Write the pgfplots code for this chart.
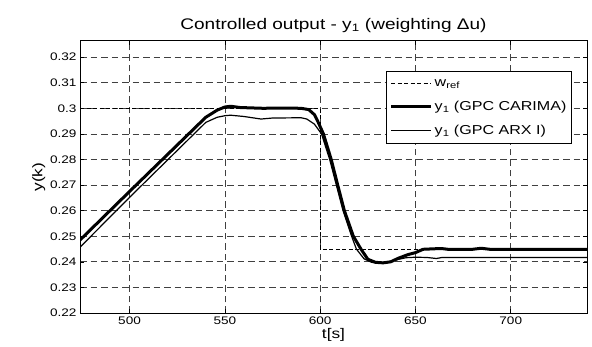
\documentclass[border=0pt]{standalone}
\usepackage{fontspec}
\setmainfont{Liberation Sans}[FakeStretch=1.24]
\usepackage{pgfplots}
\pgfplotsset{compat=1.18}
\begin{document}
\begin{tikzpicture}[x=1bp,y=1bp]
\useasboundingbox (-80bp,-34bp) rectangle (512bp,313bp);
\begin{axis}[
  at={(0,0)}, anchor=south west,
  scale only axis,
  width=507bp, height=272bp,
  xmin=474, xmax=740, ymin=0.22, ymax=0.3263,
  xtick={500,550,600,650,700},
  ytick={0.22,0.23,0.24,0.25,0.26,0.27,0.28,0.29,0.3,0.31,0.32},
  yticklabels={0.22,0.23,0.24,0.25,0.26,0.27,0.28,0.29,0.3,0.31,0.32},
  /pgf/number format/assume math mode=true,
  tick align=inside,
  major tick length=4bp,
  tick style={black, line width=0.6bp},
  axis line style={black, line width=1bp},
  grid=major,
  major grid style={dash pattern=on 6.5bp off 4bp, black!75, line width=0.7bp},
  ticklabel style={font=\fontsize{11}{12}\selectfont},
  xlabel={t[s]}, ylabel={y(k)},
  label style={font=\fontsize{14}{15}\selectfont},
  xlabel style={yshift=3bp},
  ylabel style={yshift=-2bp},
  title={Controlled output - y\textsubscript{1} (weighting Δu)},
  title style={font=\fontsize{15.4}{16}\selectfont, yshift=-1bp},
  legend style={at={(0.970,0.889)}, anchor=north east, draw=black, line width=0.8bp,
    font=\fontsize{13}{14}\selectfont, inner xsep=3bp, inner ysep=6bp,
    row sep=9bp, cells={anchor=west}},
  legend image code/.code={\draw[#1] (0bp,0bp) -- (40bp,0bp);},
]
\addplot[black, line width=0.9bp, dash pattern=on 4bp off 2.5bp] coordinates {
(474,0.3) (600,0.3) (600,0.245) (740,0.245)};
\addlegendentry{w\textsubscript{ref}}
\addplot[black, line width=3bp, line join=round] coordinates {
(474,0.2485) (500,0.2675) (540,0.2965) (546,0.2993) (550,0.3005) (553,0.3008)
(558,0.3003) (570,0.3000) (580,0.3001) (590,0.3000) (594,0.2995) (597,0.2975)
(599,0.2945) (601.7,0.2900) (605.8,0.2800) (609.2,0.2700) (612.7,0.2600)
(617.4,0.2500) (621.4,0.2450) (625,0.2410) (629,0.2398) (633,0.2396)
(637,0.2400) (641,0.2414) (646,0.2428) (650,0.2436) (654,0.2449) (660,0.2451)
(663.6,0.2452) (667,0.2449) (680,0.2449) (684.5,0.2453) (689,0.2449) (740,0.2449)};
\addlegendentry{y\textsubscript{1} (GPC CARIMA)}
\addplot[black, line width=1.2bp, line join=round] coordinates {
(474,0.2457) (500,0.2652) (540,0.2945) (546,0.2965) (550,0.2971) (553,0.2973)
(560,0.2968) (569,0.2958) (575,0.2962) (590,0.2963) (593,0.2958) (597,0.2938)
(600.7,0.2900) (605,0.2800) (608.5,0.2700) (612,0.2600) (616.5,0.2500)
(619,0.2450) (623,0.2412) (627,0.2398) (630.5,0.2396) (635,0.2399)
(640,0.2408) (645,0.2416) (650,0.2418) (656,0.2417) (661,0.2413) (664,0.2417) (740,0.2417)};
\addlegendentry{y\textsubscript{1} (GPC ARX I)}
\end{axis}
\end{tikzpicture}
\end{document}
